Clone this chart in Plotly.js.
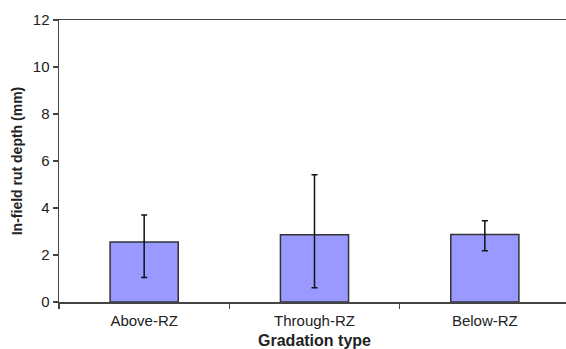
<!DOCTYPE html>
<html>
<head>
<meta charset="utf-8">
<script src="https://cdn.plot.ly/plotly-3.0.1.min.js"></script>
<style>
  html, body { margin: 0; padding: 0; overflow: hidden; background: #fff; }
  #chart { width: 575px; height: 349px; }
</style>
</head>
<body>
<div id="chart"></div>
<script>
// Mean in-field rut depth by gradation type, with error bar extents (mm)
const gradationTypes = ["Above-RZ", "Through-RZ", "Below-RZ"];
const rutDepth = [2.55, 2.86, 2.87];
const errorPlus = [1.15, 2.56, 0.59];
const errorMinus = [1.51, 2.25, 0.69];
const yTickValues = [0, 2, 4, 6, 8, 10, 12];

const textColor = "#222";
const lineColor = "#444";

const trace = {
  type: "bar",
  x: gradationTypes,
  y: rutDepth,
  marker: {
    color: "#9999ff",
    line: { color: "#333", width: 1.5 }
  },
  error_y: {
    type: "data",
    symmetric: false,
    array: errorPlus,
    arrayminus: errorMinus,
    color: "#111",
    thickness: 1.5,
    width: 3
  },
  hoverinfo: "none"
};

const layout = {
  width: 575,
  height: 349,
  margin: { l: 59, r: 5, t: 20, b: 47 },
  paper_bgcolor: "#ffffff",
  plot_bgcolor: "#ffffff",
  showlegend: false,
  bargap: 0.6,
  font: { family: "Liberation Sans, Arial, sans-serif", color: textColor },
  xaxis: {
    type: "category",
    tickson: "boundaries",
    ticks: "outside",
    ticklen: 5,
    tickwidth: 1.2,
    tickcolor: lineColor,
    ticklabelstandoff: 4,
    showline: true,
    linecolor: lineColor,
    linewidth: 1.5,
    mirror: true,
    showgrid: false,
    tickfont: { size: 15, color: textColor },
    title: {
      text: "<b>Gradation type</b>",
      font: { size: 16, color: textColor },
      standoff: 10
    }
  },
  yaxis: {
    range: [0, 12],
    tickvals: yTickValues,
    ticks: "outside",
    ticklen: 5,
    tickwidth: 1.2,
    tickcolor: lineColor,
    showline: true,
    linecolor: lineColor,
    linewidth: 1.5,
    mirror: true,
    showgrid: false,
    zeroline: false,
    tickfont: { size: 15, color: textColor },
    title: {
      text: "<b>In-field rut depth (mm)</b>",
      font: { size: 14, color: textColor },
      standoff: 7
    }
  }
};

Plotly.newPlot("chart", [trace], layout, { staticPlot: true, displayModeBar: false });
</script>
</body>
</html>
